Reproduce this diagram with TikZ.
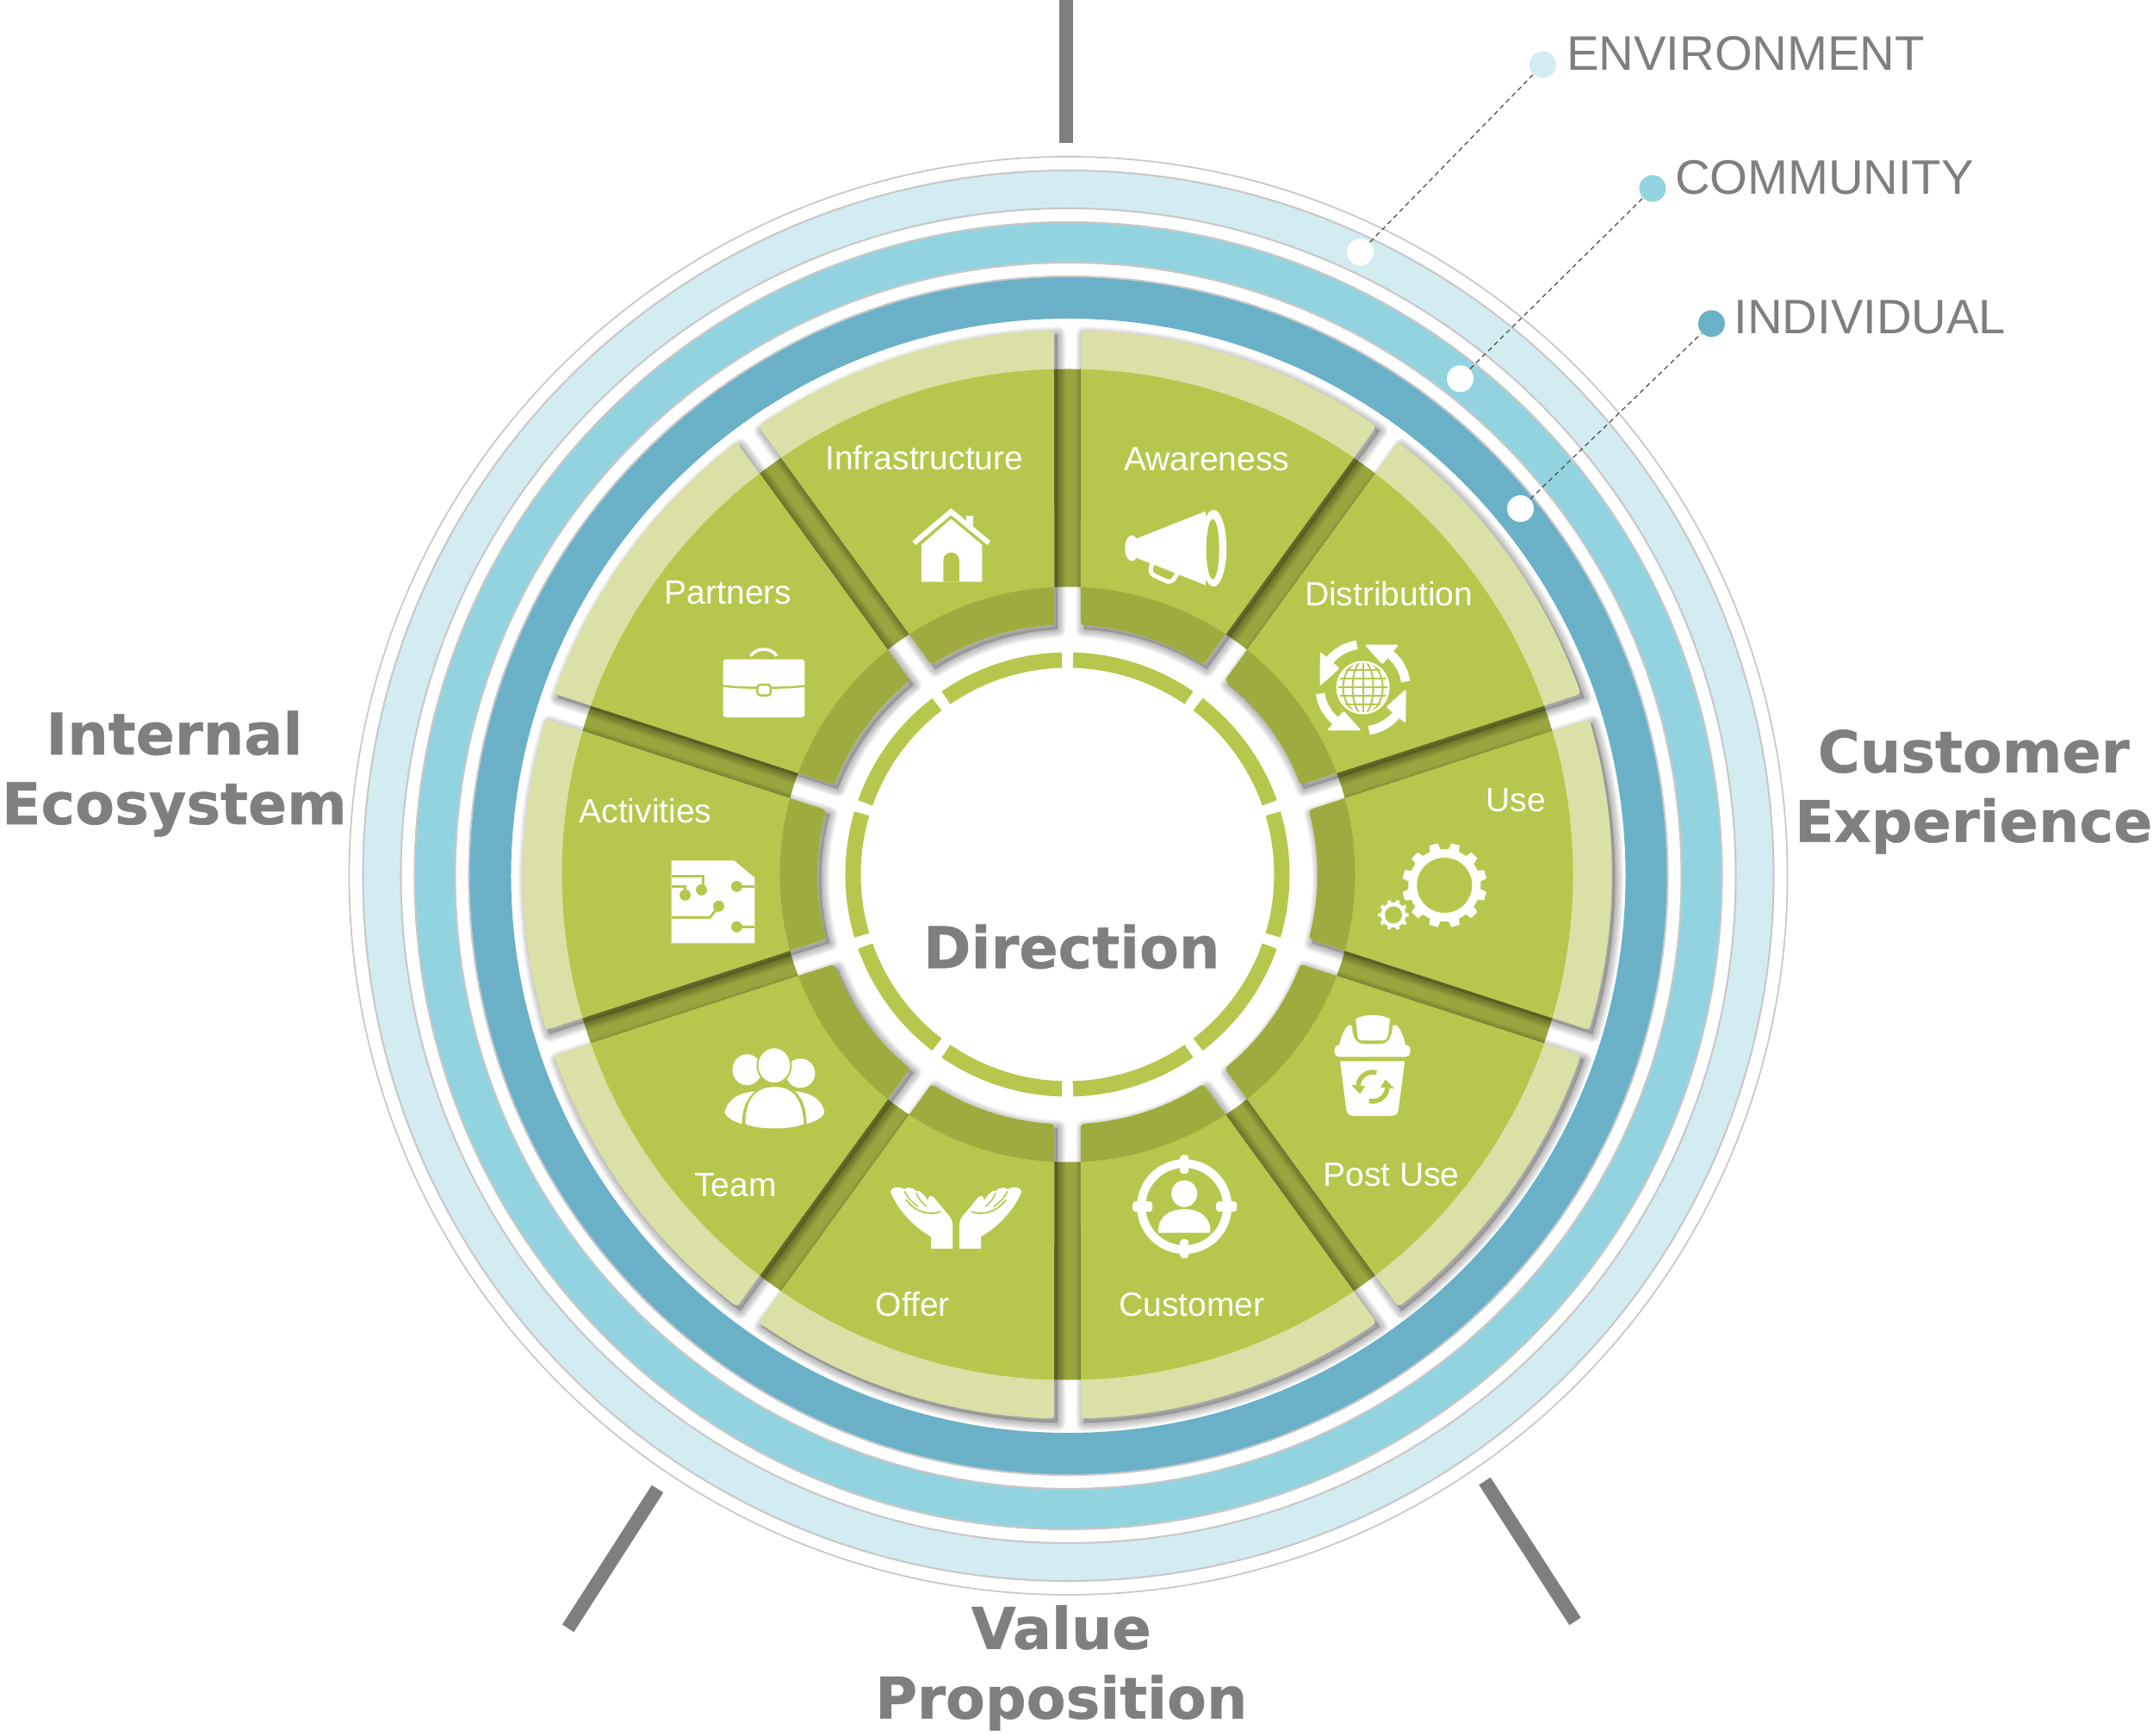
\documentclass[tikz,border=0pt]{standalone}
\usepackage{fontspec}
\setmainfont{Liberation Sans}
\setsansfont{DejaVu Sans}[BoldFeatures={FakeBold=0.7}]
\usetikzlibrary{calc, positioning, arrows.meta}

\definecolor{envblue}{HTML}{D3ECF1}
\definecolor{comblue}{HTML}{92D3E0}
\definecolor{indblue}{HTML}{6AB1C8}
\definecolor{rimgray}{HTML}{C8C8C8}
\definecolor{leaf}{HTML}{B7C74D}
\definecolor{leafdark}{HTML}{9FAB3F}
\definecolor{leafband}{HTML}{99A53E}
\definecolor{leaflight}{HTML}{DBE0A6}
\definecolor{labelgray}{HTML}{7F7F7F}

% one wedge of the wheel, #1 is the start angle
\newcommand{\rout}{6.32}
\newcommand{\rinn}{2.90}
\newcommand{\offo}{1.41}
\newcommand{\offi}{3.06}
\newcommand{\wedgeshape}[1]{({#1+\offo}:\rout) arc[start angle={#1+\offo}, end angle={#1+36-\offo}, radius=\rout] -- ({#1+36-\offi}:\rinn) arc[start angle={#1+36-\offi}, end angle={#1+\offi}, radius=\rinn] -- cycle}

\begin{document}
\begin{tikzpicture}[
      px/.style={shift={(-12.395cm,10.155cm)}, x=0.01cm, y=-0.01cm},
      seglabel/.style={text=white, font=\fontsize{11.1}{13}\selectfont, anchor=base, inner sep=0pt},
      ringlabel/.style={text=labelgray, font=\fontsize{16}{19}\selectfont, anchor=base west, inner sep=0pt},
      biglabel/.style={text=labelgray, font=\sffamily\bfseries\fontsize{19}{23}\selectfont, align=center, inner sep=0pt},
      dot/.style={circle, minimum size=0.31cm, inner sep=0pt},
      leader/.style={draw=black!70, line width=0.35pt, dash pattern=on 1.6pt off 1.2pt},
      bar/.style={draw=labelgray, line width=0.16cm},
      icon/.style={fill=white},
      cut/.style={fill=leaf},
      cutline/.style={draw=leaf}
    ]
    \useasboundingbox (-12.395,10.155) rectangle (12.605,-9.995);

    % Rings
    \coordinate (ringc) at (0.01,-0.015);
    \draw[rimgray, line width=0.5pt] (ringc) circle (8.35);
    \draw[rimgray, fill=envblue, line width=0.6pt, even odd rule] (ringc) circle (8.19) (ringc) circle (7.75);
    \draw[rimgray, fill=comblue, line width=0.6pt, even odd rule] (ringc) circle (7.59) (ringc) circle (7.12);
    \fill[indblue, even odd rule] (ringc) circle (6.96) (ringc) circle (6.47);
    \draw[rimgray, line width=0.6pt] (ringc) circle (6.96);

    % Band under the wedges
    \fill[leafband, even odd rule] (0,0) circle (5.87) (0,0) circle (3.34);

    % Wedges with their shadows
    \foreach \a in {18,54,...,342} {
      \fill[black, opacity=0.2, shift={(0.04,-0.05)}] \wedgeshape{\a};
      \foreach \k in {1,...,8}
        \draw[black, opacity=0.04, line width=\k*0.024cm, line join=round, shift={(0.04,-0.05)}] \wedgeshape{\a};
      \begin{scope}
        \clip[rounded corners=1.1pt] \wedgeshape{\a};
        \fill[leaflight] (0,0) circle (6.4);
        \fill[leaf] (0,0) circle (5.87);
        \fill[leafdark] (0,0) circle (3.34);
      \end{scope}
    }

    % Inner dashes
    \foreach \a in {18,54,...,342}
      \draw[leaf, line width=0.18cm] ({\a+1.5}:2.49) arc[start angle={\a+1.5}, end angle={\a+34.5}, radius=2.49];

    \begin{scope}[px]
      % Bars
      \draw[bar] (1238.5,0) -- (1238.5,166);
      \draw[bar] (764,1730) -- (660,1892);
      \draw[bar] (1725,1721) -- (1830,1884);

      % Dots and leaders
      \node[dot, fill=white]   (envin)  at (1580.5,293) {};
      \node[dot, fill=white]   (comin)  at (1696.5,440) {};
      \node[dot, fill=white]   (indin)  at (1766.5,591) {};
      \node[dot, fill=envblue] (envout) at (1792.5,75)  {};
      \node[dot, fill=comblue] (comout) at (1920,219) {};
      \node[dot, fill=indblue] (indout) at (1988.5,376) {};
      \draw[leader] (envin) -- (envout);
      \draw[leader] (comin) -- (comout);
      \draw[leader] (indin) -- (indout);
      \node[ringlabel] (envtxt) at (1819.5,82)  {ENVIRONMENT};
      \node[ringlabel] (comtxt) at (1945.5,226) {COMMUNITY};
      \node[ringlabel] (indtxt) at (2014,388) {INDIVIDUAL};

      % Wedge labels
      \node[seglabel] (infra)  at (1074,545.5)  {Infrastructure};
      \node[seglabel] (aware)  at (1402,547)    {Awareness};
      \node[seglabel] (distr)  at (1613.5,703.5) {Distribution};
      \node[seglabel] (partn)  at (846,702)     {Partners};
      \node[seglabel] (activ)  at (750,956.5)   {Activities};
      \node[seglabel] (useit)  at (1761.5,943.5) {Use};
      \node[seglabel] (postu)  at (1616.5,1378) {Post Use};
      \node[seglabel] (teams)  at (854.5,1390)  {Team};
      \node[seglabel] (offer)  at (1060.5,1529) {Offer};
      \node[seglabel] (custo)  at (1384.5,1529) {Customer};

      % Big labels
      \node[biglabel] (intern) at (202.5,899)  {Internal\\Ecosystem};
      \node[biglabel] (cusexp) at (2293,920)   {Customer\\Experience};
      \node[biglabel] (valpro) at (1233,1938)  {Value\\Proposition};
      \node[biglabel] (direc)  at (1245,1100)  {Direction};

      % House
      \draw[white, line width=0.06cm] (1062,631) -- (1105,594.5) -- (1149,631);
      \fill[icon] (1123,599) rectangle (1131,612);
      \fill[icon] (1070.5,676) -- (1070.5,633) -- (1105,603) -- (1141,633) -- (1141,676) -- cycle;
      \fill[cut] (1096,676) -- (1096,651) .. controls (1096,639) and (1114.5,639) .. (1114.5,651) -- (1114.5,676) -- cycle;

      % Briefcase
      \fill[icon, rounded corners=1pt] (840,766) rectangle (935,833.5);
      \draw[white, line width=0.035cm] (872,762) .. controls (880,752) and (895,752) .. (902.5,762);
      \draw[cutline, line width=0.025cm] (840,797) .. controls (860,800) and (915,800) .. (935,797);
      \draw[cutline, fill=white, line width=0.025cm, rounded corners=1pt] (880,795.5) rectangle (895.5,808);

      % Circuit sheet
      \fill[icon] (780,1000) -- (853,1000) -- (877,1020) -- (877,1096) -- (780,1096) -- cycle;
      \draw[cutline, line width=0.028cm] (780,1018) -- (817,1018) -- (817,1033);
      \draw[cutline, line width=0.028cm] (780,1030) -- (796,1030) -- (796,1039);
      \draw[cutline, line width=0.028cm] (835,1053) -- (825,1066) -- (780,1066);
      \draw[cutline, line width=0.028cm] (856,1030) -- (877,1030);
      \draw[cutline, line width=0.028cm] (856,1077) -- (877,1077);
      \foreach \cx/\cy in {815/1034, 796/1040, 835/1053, 856/1030, 856/1077}
        \fill[cut] (\cx,\cy) circle (6.5);

      % People
      \fill[icon] (868,1243) ellipse (17 and 18);
      \fill[icon] (930,1247) ellipse (17 and 17);
      \draw[leaf, fill=white, line width=0.02cm] (899.5,1238) ellipse (19.5 and 21);
      \fill[icon] (866,1306) .. controls (866,1275) and (880,1263) .. (900,1263) .. controls (920,1263) and (932,1275) .. (934,1306) .. controls (918,1313) and (882,1313) .. cycle;
      \fill[icon] (877,1268) .. controls (855,1270) and (845,1280) .. (842,1292) .. controls (843,1298) and (852,1303) .. (862,1306) .. controls (862,1290) and (866,1278) .. cycle;
      \fill[icon] (924,1268) .. controls (946,1270) and (955,1280) .. (958,1292) .. controls (957,1298) and (948,1303) .. (937,1306) .. controls (937,1290) and (934,1278) .. cycle;

      % Hands
      \foreach \s in {1,-1} {
        \begin{scope}[shift={(1110.7,0)}, xscale=\s]
          \fill[icon] (-29,1451) -- (-4,1451) -- (-4,1422) .. controls (-5,1414) and (-9,1412) .. (-12,1408) -- (-26,1391) .. controls (-29,1388) and (-34,1390) .. (-32,1396) .. controls (-38,1386) and (-44,1382) .. (-46,1384) .. controls (-52,1378) and (-58,1380) .. (-60,1382) .. controls (-66,1378) and (-76,1379) .. (-76,1385) .. controls (-68,1405) and (-50,1425) .. (-29,1437) -- cycle;
          \draw[cutline, line width=0.015cm] (-60,1384) .. controls (-56,1392) and (-50,1398) .. (-44,1402);
          \draw[cutline, line width=0.015cm] (-46,1386) .. controls (-44,1392) and (-40,1398) .. (-34,1402);
          \draw[cutline, line width=0.018cm] (-58,1394) .. controls (-46,1410) and (-30,1412) .. (-18,1408);
        \end{scope}
      }

      % Target with person
      \fill[icon, even odd rule] (1376,1402) ellipse (55 and 55) (1376,1402) ellipse (45 and 45);
      \fill[icon, rounded corners=1pt] (1371,1342) rectangle (1381,1364);
      \fill[icon, rounded corners=1pt] (1371,1440) rectangle (1381,1462);
      \fill[icon, rounded corners=1pt] (1316,1396) rectangle (1339,1408);
      \fill[icon, rounded corners=1pt] (1413,1396) rectangle (1437,1408);
      \fill[icon] (1376,1387) ellipse (15 and 15.5);
      \fill[icon] (1346,1432.5) .. controls (1344,1415) and (1358,1405) .. (1376,1405) .. controls (1394,1405) and (1408,1415) .. (1406,1432.5) -- cycle;

      % Bin
      \fill[icon, rounded corners=1.5pt] (1550.5,1228) -- (1550.5,1214) -- (1638.5,1214) -- (1638.5,1228) -- cycle;
      \fill[icon] (1556,1215) .. controls (1558,1204) and (1562,1195) .. (1567,1191) -- (1571,1192) .. controls (1571,1207) and (1577,1213) .. (1585,1213) -- (1603,1213) .. controls (1612,1213) and (1617,1207) .. (1618,1192) -- (1622,1191) .. controls (1627,1195) and (1631,1204) .. (1633,1215) -- cycle;
      \fill[icon] (1575,1184) .. controls (1585,1178) and (1605,1178) .. (1615,1184) -- (1613,1202) .. controls (1612,1207) and (1610,1209) .. (1606,1209) -- (1583,1209) .. controls (1579,1209) and (1577,1207) .. (1577,1202) -- cycle;
      \fill[icon] (1557,1233) -- (1632,1233) -- (1625,1288) .. controls (1624,1294) and (1622,1296.5) .. (1617,1296.5) -- (1572,1296.5) .. controls (1567,1296.5) and (1565,1294) .. (1564,1288) -- cycle;

      % Megaphone
      \fill[icon] (1315,637) ellipse (8 and 15);
      \fill[icon] (1321,625.5) -- (1401,594) -- (1401,680) -- (1321,648.5) -- cycle;
      \fill[icon] (1410,637) ellipse (15 and 44.6);
      \fill[cut] (1409,638) ellipse (7.5 and 35);
      \draw[white, line width=0.05cm, rounded corners=2pt] (1339,654) -- (1335,666) -- (1361,678) -- (1369,664);
    \end{scope}

    % Arrows on the bin
    \begin{scope}[shift={(3.545,-2.465)}]
      \foreach \t in {10,190} {
        \draw[leaf, line width=0.055cm, rotate=\t] (65:0.17) arc[start angle=65, end angle=165, radius=0.17];
        \fill[leaf, rotate=\t] (165:0.09) -- (165:0.25) -- (200:0.17) -- cycle;
      }
    \end{scope}

    % Gears
    \begin{scope}[shift={(4.378,-0.125)}]
      \fill[white] (0,0) circle (0.42);
      \foreach \t in {15,45,...,345}
        \fill[white, rotate=\t] (0.38,-0.07) -- (0.49,-0.05) -- (0.49,0.05) -- (0.38,0.07) -- cycle;
      \fill[leaf] (0,0) circle (0.32);
    \end{scope}
    \begin{scope}[shift={(3.785,-0.47)}]
      \fill[white] (0,0) circle (0.145);
      \foreach \t in {0,36,...,324}
        \fill[white, rotate=\t] (0.13,-0.025) -- (0.177,-0.018) -- (0.177,0.018) -- (0.13,0.025) -- cycle;
      \fill[leaf] (0,0) circle (0.10);
    \end{scope}

    % Globe with four arrows
    \begin{scope}[shift={(3.431,2.17)}]
      \fill[white] (0,0) circle (0.31);
      \begin{scope}
        \clip (0,0) circle (0.285);
        \draw[leaf, line width=0.02cm] (0,-0.31) -- (0,0.31);
        \draw[leaf, line width=0.02cm] (0,0) ellipse (0.12 and 0.31);
        \draw[leaf, line width=0.02cm] (0,0) ellipse (0.23 and 0.31);
        \foreach \h in {-0.2,-0.1,0,0.1,0.2}
          \draw[leaf, line width=0.02cm] (-0.31,\h) -- (0.31,\h);
      \end{scope}
      \foreach \t in {8,98,188,278} {
        \draw[white, line width=0.105cm, rotate=\t] (0:0.50) arc[start angle=0, end angle=45, radius=0.50];
        \fill[white, rotate=\t, rounded corners=0.5pt] (42:0.35) -- (42:0.65) -- (80:0.50) -- cycle;
      }
    \end{scope}
  \end{tikzpicture}
\end{document}
